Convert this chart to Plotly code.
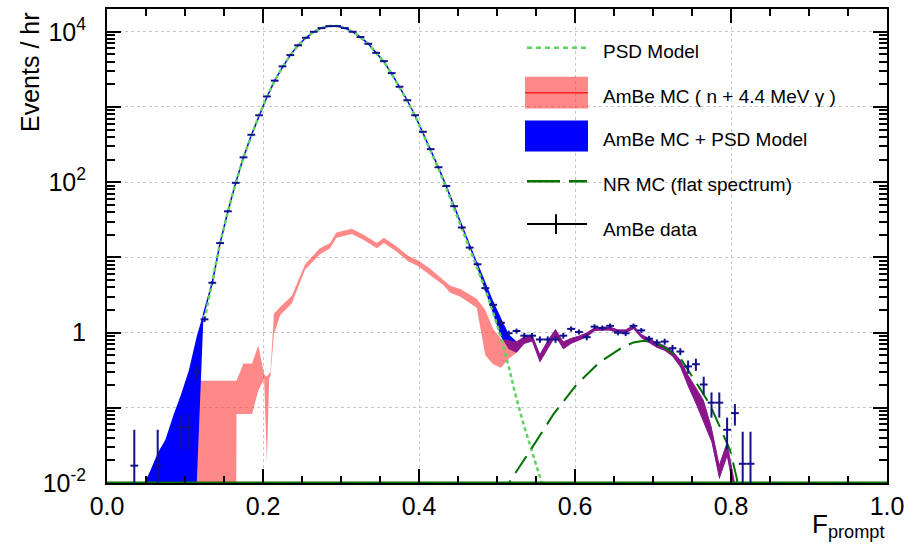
import plotly.graph_objects as go

# ---------------- data ----------------
# AmBe data (bin centres, events/hr, errors)
data_x = [0.035, 0.065, 0.095, 0.105, 0.115,
          0.125, 0.135, 0.145, 0.155, 0.165, 0.175, 0.185, 0.195, 0.205, 0.215,
          0.225, 0.235, 0.245, 0.255, 0.265, 0.275, 0.285, 0.295, 0.305, 0.315,
          0.325, 0.335, 0.345, 0.355, 0.365, 0.375, 0.385, 0.395, 0.405, 0.415,
          0.425, 0.435, 0.445, 0.455, 0.465, 0.475, 0.485, 0.495, 0.505, 0.515,
          0.525, 0.535, 0.545, 0.555, 0.565, 0.575, 0.585, 0.595, 0.605, 0.615,
          0.625, 0.635, 0.645, 0.655, 0.665, 0.675, 0.685, 0.695, 0.705, 0.715,
          0.725, 0.735, 0.745, 0.755, 0.765, 0.775, 0.785, 0.795, 0.805, 0.815,
          0.825]
data_y = [0.017, 0.017, 0.055, 0.055, 0.30,
          1.5, 4.6, 15.5, 41, 98, 214, 427, 776, 1380, 2240,
          3470, 4900, 6610, 8320, 10000, 11200, 11900, 11900, 11200, 10000,
          8510, 6920, 5250, 4070, 2820, 1860, 1230, 776, 468, 275,
          158, 89, 48, 25, 13.5, 8.1, 3.9, 2.34, 1.35, 0.98,
          1.05, 0.91, 0.91, 0.81, 0.81, 0.81, 0.91, 1.12, 1.02, 0.87,
          1.20, 1.15, 1.23, 1.00, 0.98, 1.23, 1.07, 0.83, 0.74, 0.76,
          0.62, 0.56, 0.355, 0.38, 0.204, 0.117, 0.117, 0.051, 0.085, 0.018,
          0.018]
data_err = [0.034, 0.034, 0.027, 0.027, 0.07,
            0.12, 0.25, 0.5, 0.9, 1.5, 2.5, 4, 6, 9, 12,
            15, 18, 21, 24, 26, 27, 28, 28, 27, 26,
            24, 21, 19, 16, 14, 11, 9, 7, 5.5, 4,
            3, 2.2, 1.6, 1.1, 0.8, 0.45, 0.25, 0.18, 0.12, 0.08,
            0.08, 0.08, 0.08, 0.08, 0.08, 0.08, 0.08, 0.09, 0.08, 0.08,
            0.09, 0.09, 0.09, 0.08, 0.08, 0.09, 0.08, 0.075, 0.07, 0.07,
            0.065, 0.06, 0.07, 0.07, 0.055, 0.043, 0.043, 0.023, 0.027, 0.03,
            0.03]
bin_half_width = 0.005

# PSD model
psd_x = [0.125, 0.135, 0.145, 0.155, 0.165, 0.175, 0.185, 0.195, 0.205, 0.215,
         0.225, 0.235, 0.245, 0.255, 0.265, 0.275, 0.285, 0.295, 0.305, 0.315,
         0.325, 0.335, 0.345, 0.355, 0.365, 0.375, 0.385, 0.395, 0.405, 0.415,
         0.425, 0.435, 0.445, 0.455, 0.465, 0.475, 0.485, 0.495, 0.505, 0.515,
         0.525, 0.535, 0.545, 0.555, 0.565]
psd_y = [1.48, 4.57, 15.5, 40.7, 97.7, 214, 417, 776, 1350, 2240,
         3390, 4900, 6610, 8320, 10000, 11200, 11900, 11900, 11200, 10000,
         8510, 6920, 5250, 3980, 2750, 1820, 1200, 759, 447, 263,
         151, 83, 44.7, 23.4, 12.6, 7.2, 3.8, 1.86, 0.87, 0.355,
         0.132, 0.056, 0.026, 0.0117, 0.0056]

# AmBe MC + PSD model: left part (band), central curve, right part (band)
tot_left_x = [0.045, 0.055, 0.065, 0.075, 0.085, 0.095, 0.105, 0.115, 0.1235]
tot_left_lo = [0.001, 0.001, 0.001, 0.001, 0.001, 0.001, 0.001, 0.0095, 1.5]
tot_left_hi = [0.0089, 0.0141, 0.025, 0.038, 0.079, 0.151, 0.316, 0.89, 1.78]

tot_mid_x = [0.1235, 0.135, 0.145, 0.155, 0.165, 0.175, 0.185, 0.195, 0.205, 0.215,
             0.225, 0.235, 0.245, 0.255, 0.265, 0.275, 0.285, 0.295, 0.305, 0.315,
             0.325, 0.335, 0.345, 0.355, 0.365, 0.375, 0.385, 0.395, 0.405, 0.415,
             0.425, 0.435, 0.445, 0.455, 0.465, 0.475]
tot_mid_y = [1.7, 4.6, 15.5, 41, 98, 214, 420, 776, 1360, 2240,
             3400, 4900, 6610, 8320, 10000, 11200, 11900, 11900, 11200, 10000,
             8510, 6920, 5250, 4000, 2780, 1840, 1220, 770, 460, 270,
             156, 88, 48, 25, 13.5, 7.8]

tot_right_x = [0.475, 0.485, 0.495, 0.505, 0.515, 0.525, 0.535, 0.545, 0.555, 0.565,
               0.575, 0.585, 0.595, 0.605, 0.615, 0.625, 0.635, 0.645, 0.655, 0.665,
               0.675, 0.685, 0.695, 0.705, 0.715, 0.725, 0.735, 0.745, 0.755, 0.765,
               0.775, 0.785, 0.795, 0.805, 0.815]
tot_right_lo = [7.1, 3.55, 1.78, 0.89, 0.60, 0.54, 0.71, 0.76, 0.40, 0.60,
                0.89, 0.60, 0.71, 0.79, 0.87, 1.05, 1.07, 1.07, 0.98, 0.98,
                1.12, 0.85, 0.74, 0.63, 0.575, 0.48, 0.347, 0.19, 0.112, 0.063,
                0.035, 0.0112, 0.0224, 0.0063, 0.001]
tot_right_hi = [8.5, 4.8, 2.63, 1.58, 0.95, 0.76, 0.89, 0.95, 0.52, 0.79,
                1.12, 0.76, 0.85, 0.91, 1.00, 1.17, 1.20, 1.20, 1.10, 1.10,
                1.26, 0.95, 0.85, 0.74, 0.676, 0.575, 0.437, 0.275, 0.19, 0.126,
                0.056, 0.0178, 0.0355, 0.010, 0.001]

# AmBe MC (n + 4.4 MeV gamma) band
mc_x = [0.115, 0.1655, 0.166, 0.175, 0.186, 0.194, 0.2015, 0.205, 0.208, 0.2095,
        0.214, 0.222, 0.237, 0.254, 0.273, 0.286, 0.294, 0.314, 0.329, 0.346,
        0.355, 0.371, 0.386, 0.399, 0.414, 0.431, 0.44, 0.453, 0.474, 0.485,
        0.495, 0.505, 0.515, 0.525, 0.535, 0.545, 0.555, 0.565, 0.575, 0.585,
        0.595, 0.605, 0.615, 0.625, 0.635, 0.645, 0.655, 0.665, 0.675, 0.685,
        0.695, 0.705, 0.715, 0.725, 0.735, 0.745, 0.755, 0.765, 0.775, 0.785,
        0.795, 0.805, 0.815]
mc_lo = [0.001, 0.001, 0.083, 0.083, 0.083, 0.17, 0.24, 0.019, 0.25, 0.26,
         0.95, 1.70, 2.45, 6.9, 11.0, 13.2, 18.2, 20.4, 17.0, 13.2,
         15.5, 12.0, 8.9, 7.6, 5.9, 4.3, 3.4, 3.0, 2.14, 0.50,
         0.38, 0.34, 0.45, 0.54, 0.71, 0.76, 0.40, 0.60, 0.89, 0.60,
         0.71, 0.79, 0.87, 1.05, 1.07, 1.07, 0.98, 0.98, 1.12, 0.85,
         0.74, 0.63, 0.575, 0.48, 0.347, 0.19, 0.112, 0.063, 0.035, 0.0112,
         0.0224, 0.0063, 0.001]
mc_hi = [0.229, 0.229, 0.229, 0.389, 0.389, 0.676, 0.275, 0.26, 0.28, 0.30,
         1.78, 2.19, 3.09, 8.1, 13.2, 15.5, 21.4, 24.0, 20.0, 15.5,
         18.2, 14.1, 10.5, 9.1, 7.1, 5.1, 4.2, 3.8, 2.82, 2.0,
         1.12, 0.83, 0.79, 0.76, 0.89, 0.95, 0.52, 0.79, 1.12, 0.76,
         0.85, 0.91, 1.00, 1.17, 1.20, 1.20, 1.10, 1.10, 1.26, 0.95,
         0.85, 0.74, 0.676, 0.575, 0.437, 0.275, 0.19, 0.126, 0.056, 0.0178,
         0.0355, 0.010, 0.001]

# NR MC (flat spectrum)
nr_x = [0.505, 0.517, 0.545, 0.572, 0.602, 0.632, 0.660, 0.675, 0.688, 0.700,
        0.713, 0.735, 0.760, 0.773, 0.786, 0.799, 0.807, 0.812]
nr_y = [0.0063, 0.0107, 0.0295, 0.081, 0.204, 0.407, 0.63, 0.74, 0.78, 0.74,
        0.65, 0.457, 0.182, 0.11, 0.055, 0.027, 0.012, 0.0063]
nr_zero_x = [0.0, 1.0]
nr_zero_y = [0.0101, 0.0101]

legend_labels = ["PSD Model", "AmBe MC ( n + 4.4 MeV \u03b3 )", "AmBe MC + PSD Model",
                 "NR MC (flat spectrum)", "AmBe data"]
x_tickvals = [0.0, 0.2, 0.4, 0.6, 0.8, 1.0]
x_ticktext = ["0.0", "0.2", "0.4", "0.6", "0.8", "1.0"]
y_tickvals = [0.01, 0.1, 1, 10, 100, 1000, 10000]
y_ticktext = ["10<sup>-2</sup>", "", "1", "", "10<sup>2</sup>", "", "10<sup>4</sup>"]

# ---------------- styles ----------------
FONT = "Liberation Sans, Arial, Helvetica, sans-serif"
NAVY = "#12128c"
BLUE = "#0000ff"
RED_FILL = "rgba(255,40,40,0.55)"
LGREEN = "#5fd35f"
DGREEN = "#007000"

fig = go.Figure()

def band(xs, lo, hi, color, name):
    return go.Scatter(x=list(xs) + list(xs)[::-1], y=list(hi) + list(lo)[::-1],
                      fill="toself", fillcolor=color, mode="lines",
                      line=dict(width=0, color=color), name=name,
                      hoverinfo="skip", showlegend=False)

fig.add_trace(band(tot_right_x, tot_right_lo, tot_right_hi, BLUE, "AmBe MC + PSD Model"))
fig.add_trace(band(mc_x, mc_lo, mc_hi, RED_FILL, "AmBe MC"))
fig.add_trace(band(tot_left_x, tot_left_lo, tot_left_hi, BLUE, "AmBe MC + PSD Model"))
fig.add_trace(go.Scatter(x=tot_mid_x, y=tot_mid_y, mode="lines",
                         line=dict(color=BLUE, width=1.5), showlegend=False))
fig.add_trace(go.Scatter(x=psd_x, y=psd_y, mode="lines",
                         line=dict(color=LGREEN, width=2.5, dash="4px,3px"),
                         showlegend=False))
fig.add_trace(go.Scatter(x=nr_x, y=nr_y, mode="lines",
                         line=dict(color=DGREEN, width=2, dash="20px,9px"),
                         showlegend=False))
fig.add_trace(go.Scatter(x=nr_zero_x, y=nr_zero_y, mode="lines",
                         line=dict(color=DGREEN, width=2.5), showlegend=False))
fig.add_trace(go.Scatter(x=data_x, y=data_y, mode="markers",
                         marker=dict(size=1, color=NAVY),
                         error_y=dict(type="data", array=data_err, color=NAVY,
                                      thickness=2, width=0),
                         error_x=dict(type="constant", value=bin_half_width,
                                      color=NAVY, thickness=2, width=0),
                         showlegend=False))

# ---------------- custom legend ----------------
L, T, B = 107.0, 7.0, 483.0
W, H = 780.0, 476.0
def px(xp):
    return (xp - L) / W
def py(yp):
    return (B - yp) / H

shapes = []
shapes.append(dict(type="line", xref="paper", yref="paper", x0=px(527), x1=px(587),
                   y0=py(46), y1=py(46), line=dict(color=LGREEN, width=2.5, dash="5px,4px")))
shapes.append(dict(type="rect", xref="paper", yref="paper", x0=px(525), x1=px(588),
                   y0=py(107), y1=py(75), fillcolor=RED_FILL, line=dict(width=0)))
shapes.append(dict(type="line", xref="paper", yref="paper", x0=px(525), x1=px(588),
                   y0=py(91), y1=py(91), line=dict(color="#ff2020", width=1.5)))
shapes.append(dict(type="rect", xref="paper", yref="paper", x0=px(525), x1=px(588),
                   y0=py(150), y1=py(119), fillcolor=BLUE, line=dict(width=0)))
shapes.append(dict(type="line", xref="paper", yref="paper", x0=px(527), x1=px(587),
                   y0=py(180), y1=py(180), line=dict(color=DGREEN, width=2.5, dash="33px,9px")))
shapes.append(dict(type="line", xref="paper", yref="paper", x0=px(527), x1=px(587),
                   y0=py(223), y1=py(223), line=dict(color="black", width=2)))
shapes.append(dict(type="line", xref="paper", yref="paper", x0=px(556), x1=px(556),
                   y0=py(213), y1=py(233), line=dict(color="black", width=2)))

annotations = []
for lab, yc in zip(legend_labels, [50, 95, 138, 183, 228]):
    annotations.append(dict(text=lab, xref="paper", yref="paper", x=px(601), y=py(yc),
                            xanchor="left", yanchor="middle", showarrow=False,
                            font=dict(family=FONT, size=19, color="black")))
annotations.append(dict(text="Events / hr", xref="paper", yref="paper", x=px(30), y=py(8),
                        xanchor="center", yanchor="top", textangle=-90, showarrow=False,
                        font=dict(family=FONT, size=25, color="black")))
annotations.append(dict(text="F<sub>prompt</sub>", xref="paper", yref="paper", x=px(887),
                        y=py(507), xanchor="right", yanchor="top", showarrow=False,
                        font=dict(family=FONT, size=26, color="black")))

fig.update_layout(
    width=918, height=545,
    margin=dict(l=107, r=31, t=7, b=62),
    paper_bgcolor="white", plot_bgcolor="white",
    showlegend=False,
    shapes=shapes, annotations=annotations,
    font=dict(family=FONT, color="black"),
)
fig.update_xaxes(range=[0, 1], tickmode="array", tickvals=x_tickvals, ticktext=x_ticktext,
                 ticks="inside", ticklen=14, tickwidth=1.5, tickcolor="black",
                 showline=True, linecolor="black", linewidth=2, mirror="allticks",
                 showgrid=True, gridcolor="#c8c8c8", griddash="dot", gridwidth=1,
                 zeroline=False, ticklabelstandoff=0,
                 tickfont=dict(family=FONT, size=25, color="black"),
                 minor=dict(ticks="inside", ticklen=7, tickwidth=1.5, tickcolor="black",
                            dtick=0.05, showgrid=False))
fig.update_yaxes(type="log", range=[-2, 4.303], tickmode="array", tickvals=y_tickvals,
                 ticktext=y_ticktext,
                 ticks="inside", ticklen=14, tickwidth=1.5, tickcolor="black",
                 showline=True, linecolor="black", linewidth=2, mirror="allticks",
                 showgrid=True, gridcolor="#c8c8c8", griddash="dot", gridwidth=1,
                 zeroline=False, ticklabelstandoff=14,
                 tickfont=dict(family=FONT, size=25, color="black"),
                 minor=dict(ticks="inside", ticklen=8, tickwidth=1.5, tickcolor="black",
                            dtick="D1", showgrid=False))

fig.write_html("out.html", config={"displayModeBar": False},
               post_script="document.body.style.margin='0px';document.body.style.padding='0px';")
